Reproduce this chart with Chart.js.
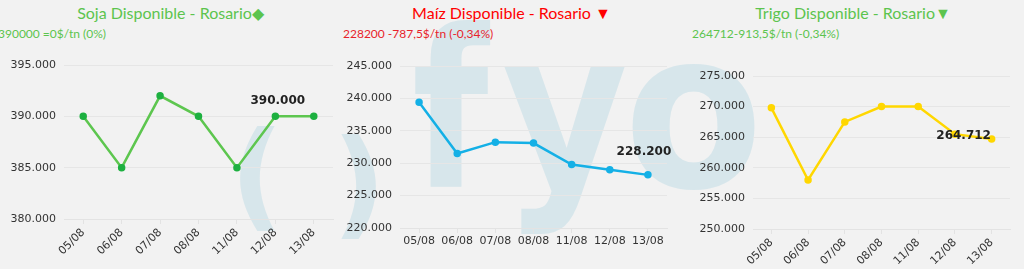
<!DOCTYPE html>
<html>
<head>
<meta charset="utf-8">
<script src="https://cdn.jsdelivr.net/npm/chart.js@4.4.0/dist/chart.umd.min.js"></script>
<style>
body { margin: 0; background: #f2f2f2; width: 1024px; height: 269px; overflow: hidden; position: relative; font-family: "Lato", sans-serif; }
.wm { position: absolute; color: #d7e6eb; font-family: "DejaVu Sans"; font-weight: bold; line-height: 1; white-space: nowrap; transform-origin: 0 0; }
.box { position: absolute; top: 0; height: 269px; }
.title { position: absolute; top: 3px; left: 0; right: 0; text-align: center; font-size: 16px; }
.sub { position: absolute; top: 26px; font-size: 12px; white-space: nowrap; }
canvas { position: absolute; left: 0; top: 50px; }
</style>
</head>
<body>
<div class="wm" style="left:230px;top:116px;font-size:118px;">(</div>
<div class="wm" style="left:332px;top:124px;font-size:118px;">)</div>
<div class="wm" style="left:412px;top:1px;font-size:220px;transform:scaleX(0.8);">f</div>
<div class="wm" style="left:502px;top:1px;font-size:220px;transform:scaleX(0.88);">y</div>
<div class="wm" style="left:624px;top:1px;font-size:220px;transform:scaleX(0.92);">o</div>

<div class="box" style="left:0;width:341px">
  <div class="title" style="color:#5cc44e">Soja Disponible - Rosario&#9670;</div>
  <div class="sub" style="left:-2px;color:#5cc44e">390000 =0$/tn (0%)</div>
  <canvas id="c1" width="341" height="219"></canvas>
</div>
<div class="box" style="left:341px;width:341px">
  <div class="title" style="color:#ff0000">Maíz Disponible - Rosario &#9660;</div>
  <div class="sub" style="left:2px;color:#e8232b">228200 -787,5$/tn (-0,34%)</div>
  <canvas id="c2" width="341" height="219"></canvas>
</div>
<div class="box" style="left:682px;width:342px">
  <div class="title" style="color:#5cc44e">Trigo Disponible - Rosario&#9660;</div>
  <div class="sub" style="left:10px;color:#5cc44e">264712-913,5$/tn (-0,34%)</div>
  <canvas id="c3" width="342" height="219"></canvas>
</div>

<script>
var fechas = ["05/08", "06/08", "07/08", "08/08", "11/08", "12/08", "13/08"];
var soja = [390000, 385000, 392000, 390000, 385000, 390000, 390000];
var maiz = [239400, 231500, 233250, 233100, 229800, 229000, 228200];
var trigo = [269800, 258000, 267500, 270000, 270000, 265500, 264712];

function miles(v) {
    return String(v).replace(/\B(?=(\d{3})+(?!\d))/g, ".");
}

// etiqueta con el ultimo valor
var ultimoValor = {
    id: "ultimoValor",
    afterDatasetsDraw: function(chart, args, opts) {
        var meta = chart.getDatasetMeta(0);
        var pt = meta.data[meta.data.length - 1];
        var v = chart.data.datasets[0].data[meta.data.length - 1];
        var ctx = chart.ctx;
        ctx.save();
        ctx.font = "bold 12px 'DejaVu Sans'";
        ctx.fillStyle = "#222";
        ctx.textAlign = "center";
        ctx.textBaseline = "middle";
        ctx.fillText(miles(v), pt.x + opts.dx, pt.y + opts.dy);
        ctx.restore();
    }
};

function makeChart(id, values, color, ptColor, min, max, yw, xh, rot, pad, lbl) {
    return new Chart(id, {
        type: "line",
        data: {
            labels: fechas,
            datasets: [{
                data: values,
                borderColor: color,
                backgroundColor: ptColor,
                pointBackgroundColor: ptColor,
                pointBorderColor: ptColor,
                pointRadius: 2.5,
                borderWidth: 2.5,
                tension: 0
            }]
        },
        options: {
            responsive: false,
            animation: false,
            layout: {padding: pad},
            plugins: {
                legend: {display: false},
                tooltip: {enabled: false},
                ultimoValor: lbl
            },
            scales: {
                x: {
                    offset: true,
                    grid: {display: true, drawOnChartArea: false, drawTicks: true, tickLength: 5, color: "#e3e3e3"},
                    border: {color: "#e3e3e3"},
                    ticks: {color: "#333", font: {family: "DejaVu Sans", size: 11}, minRotation: rot, maxRotation: rot, padding: 2},
                    afterFit: function(s) { s.height = xh; }
                },
                y: {
                    min: min,
                    max: max,
                    grid: {color: "#e6e6e6", drawTicks: false},
                    border: {display: false},
                    ticks: {stepSize: 5000, color: "#333", padding: 8, font: {family: "DejaVu Sans", size: 11}, callback: function(v) { return miles(v); }},
                    afterFit: function(s) { s.width = yw; }
                }
            }
        },
        plugins: [ultimoValor]
    });
}

makeChart("c1", soja, "#5dc64f", "#1db040", 380000, 395000, 64, 50, 45, {top: 15, right: 8, left: 0, bottom: 0}, {dx: -36, dy: -15});
makeChart("c2", maiz, "#14b0e6", "#14b0e6", 220000, 245000, 59, 41, 0, {top: 16, right: 15, left: 0, bottom: 0}, {dx: -4, dy: -23});
makeChart("c3", trigo, "#ffd700", "#ffd700", 250000, 275000, 71, 40, 45, {top: 26, right: 14, left: 0, bottom: 0}, {dx: -28, dy: -3});
</script>
</body>
</html>
